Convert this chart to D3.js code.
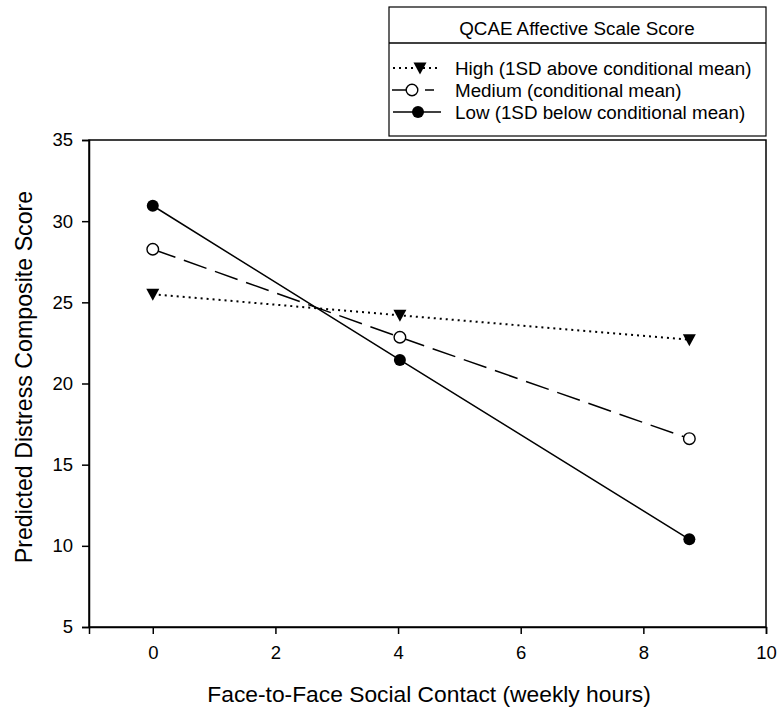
<!DOCTYPE html>
<html><head><meta charset="utf-8">
<script src="https://cdn.jsdelivr.net/npm/d3@7"></script>
<style>body{margin:0;background:#fff}svg{display:block;font-family:"Liberation Sans",Arial,sans-serif}</style>
</head><body>
<svg id="c" width="779" height="711"></svg>
<script>
const xValues = [0, 4.03, 8.75];
const highValues = [25.5, 24.2, 22.7];
const mediumValues = [28.27, 22.85, 16.6];
const lowValues = [30.95, 21.45, 10.4];
const seriesNames = ["High (1SD above conditional mean)", "Medium (conditional mean)", "Low (1SD below conditional mean)"];
const xTicks = [0, 2, 4, 6, 8, 10];
const yTicks = [5, 10, 15, 20, 25, 30, 35];
const legendTitle = "QCAE Affective Scale Score";
const xTitle = "Face-to-Face Social Contact (weekly hours)";
const yTitle = "Predicted Distress Composite Score";

const svg = d3.select("#c");
const L = 89, R = 766, T = 140, B = 627;
const x = d3.scaleLinear().domain([-1.04, 10]).range([L, R]);
const y = d3.scaleLinear().domain([5, 35]).range([B, T]);

// frame
svg.append("rect").attr("x", L).attr("y", T).attr("width", R - L).attr("height", B - T)
  .attr("fill", "none").attr("stroke", "#000").attr("stroke-width", 1.5);

const xa = svg.append("g").attr("transform", `translate(0,${B})`)
  .call(d3.axisBottom(x).tickValues(xTicks).tickSize(7).tickPadding(12).tickFormat(d3.format("d")));
const ya = svg.append("g").attr("transform", `translate(${L},0)`)
  .call(d3.axisLeft(y).tickValues(yTicks).tickSize(7).tickPadding(9).tickFormat(d3.format("d")));
[xa, ya].forEach(a => {
  a.select(".domain").attr("stroke-width", 1.5);
  a.selectAll(".tick line").attr("stroke-width", 1.5);
  a.selectAll("text").attr("font-size", 18.5).attr("font-family", "Liberation Sans, Arial, sans-serif").attr("fill", "#000");
});

svg.append("text").attr("x", 429).attr("y", 702).attr("text-anchor", "middle")
  .attr("font-size", 22.8).text(xTitle);
svg.append("text").attr("transform", `translate(32,377) rotate(-90)`).attr("text-anchor", "middle")
  .attr("font-size", 23.2).text(yTitle);

const series = [
  {vals: highValues, dash: "2,4", marker: "tri"},
  {vals: mediumValues, dash: "24,9", marker: "open"},
  {vals: lowValues, dash: null, marker: "filled"}
];
const line = d3.line().x(d => x(d[0])).y(d => y(d[1]));

function drawMarker(g, type, cx, cy) {
  if (type === "tri") {
    g.append("path").attr("d", `M${cx-6.5},${cy-5.5}L${cx+6.5},${cy-5.5}L${cx},${cy+6.5}Z`).attr("fill", "#000");
  } else if (type === "open") {
    g.append("circle").attr("cx", cx).attr("cy", cy).attr("r", 5.8).attr("fill", "#fff").attr("stroke", "#000").attr("stroke-width", 1.4);
  } else {
    g.append("circle").attr("cx", cx).attr("cy", cy).attr("r", 6).attr("fill", "#000");
  }
}

series.forEach(s => {
  const pts = xValues.map((xv, i) => [xv, s.vals[i]]);
  svg.append("path").datum(pts).attr("d", line).attr("fill", "none").attr("stroke", "#000")
    .attr("stroke-width", s.marker === "tri" ? 2 : 1.5)
    .attr("stroke-dasharray", s.dash);
  const g = svg.append("g");
  pts.forEach(p => drawMarker(g, s.marker, x(p[0]), y(p[1])));
});

// legend
const lg = svg.append("g");
lg.append("rect").attr("x", 389).attr("y", 7).attr("width", 377).attr("height", 129)
  .attr("fill", "#fff").attr("stroke", "#000").attr("stroke-width", 1.2);
lg.append("line").attr("x1", 389).attr("x2", 766).attr("y1", 43).attr("y2", 43).attr("stroke", "#000").attr("stroke-width", 1.5);
lg.append("text").attr("x", 577).attr("y", 35).attr("text-anchor", "middle").attr("font-size", 18.8).text(legendTitle);
const rowsY = [68, 90, 112];
const markerX = [420, 412, 418];
series.forEach((s, i) => {
  const yy = rowsY[i];
  if (s.marker === "open") {
    lg.append("line").attr("x1", 392).attr("x2", 406).attr("y1", yy).attr("y2", yy).attr("stroke", "#000").attr("stroke-width", 1.5);
    lg.append("line").attr("x1", 425).attr("x2", 434).attr("y1", yy).attr("y2", yy).attr("stroke", "#000").attr("stroke-width", 1.5);
  } else {
    lg.append("line").attr("x1", 393).attr("x2", 441).attr("y1", yy).attr("y2", yy).attr("stroke", "#000")
      .attr("stroke-width", s.marker === "tri" ? 2 : 1.5)
      .attr("stroke-dasharray", s.dash);
  }
  drawMarker(lg, s.marker, markerX[i], yy);
  lg.append("text").attr("x", 455).attr("y", yy + 7).attr("font-size", 18.8).text(seriesNames[i]);
});
</script>
</body></html>
